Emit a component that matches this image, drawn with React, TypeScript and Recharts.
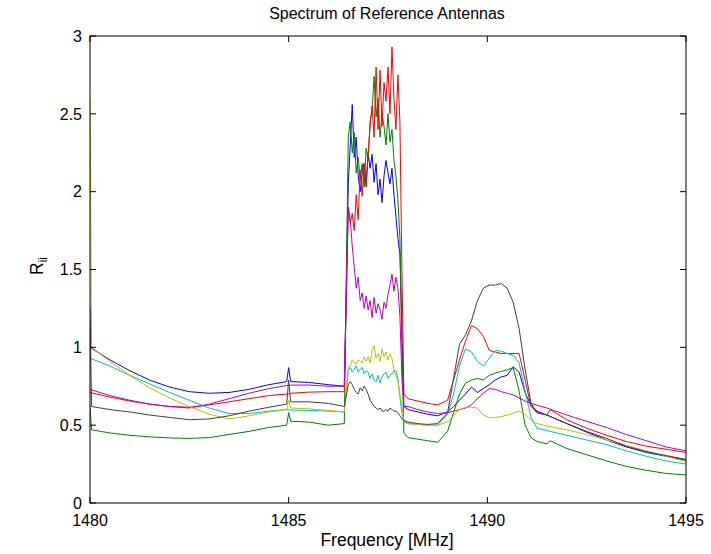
import { LineChart, Line, XAxis, YAxis } from "recharts";

// frequency grid [MHz]: coarse outside the band, fine inside the 1486.5-1487.9 band
const freq = [
  1480, 1480.04, 1480.5, 1481, 1481.5, 1482, 1482.5, 1483, 1483.5, 1484, 1484.5, 1484.95, 1485, 1485.05, 1485.5, 1486, 1486.4,
  1486.5, 1486.55, 1486.6, 1486.65, 1486.7, 1486.75, 1486.8, 1486.85, 1486.9, 1486.95, 1487, 1487.05, 1487.1, 1487.15,
  1487.2, 1487.25, 1487.3, 1487.35, 1487.4, 1487.45, 1487.5, 1487.55, 1487.6, 1487.65, 1487.7, 1487.75, 1487.8, 1487.85, 1487.9,
  1488, 1488.25, 1488.5, 1488.75, 1489, 1489.15, 1489.3, 1489.45, 1489.6, 1489.75, 1489.9, 1490.05, 1490.2, 1490.35,
  1490.5, 1490.65, 1490.8, 1490.95, 1491.1, 1491.25, 1491.5, 1491.58, 1492, 1492.5, 1493, 1493.5, 1494, 1494.5, 1495,
];

const blue = [
  1.0, null, 0.92, 0.85, 0.79, 0.745, 0.715, 0.705, 0.71, 0.73, 0.76, 0.78, 0.87, 0.78, 0.775, 0.76, 0.75,
  2.05, 2.3, 2.56, 2.22, 2.35, 2.1, 2.0, 2.12, 2.18, 2.04, 2.25, 2.15, 2.24, 2.06, 2.18, 1.98, 2.08, 1.93, 2.1, 2.2,
  2.12, 2.05, 2.15, 1.98, 1.84, 1.7, 1.6, 1.1, 0.62,
  0.6, 0.585, 0.57, 0.56, 0.585, 0.62, 0.66, 0.7, 0.745, 0.71, 0.735, 0.76, 0.79, 0.81, 0.82, 0.875, 0.84, 0.71,
  0.625, 0.59, 0.565, null, 0.51, 0.455, 0.405, 0.36, 0.325, 0.3, 0.275,
];

const green = [
  0.62, 0.47, 0.45, 0.435, 0.425, 0.418, 0.415, 0.42, 0.44, 0.46, 0.485, 0.5, 0.58, 0.525, 0.52, 0.5, 0.51,
  2.35, 2.45, 2.25, 2.38, 2.12, 2.22, 2.08, 2.18, 2.03, 2.28, 2.2, 2.45, 2.52, 2.74, 2.48, 2.6, 2.35, 2.5, 2.42, 2.3,
  2.5, 2.32, 2.4, 2.2, 2.1, 1.95, 1.7, 1.0, 0.45,
  0.42, 0.41, 0.4, 0.39, 0.46, 0.58, 0.7, 0.77, 0.79, 0.8, 0.79, 0.82, 0.835, 0.845, 0.855, 0.87, 0.72, 0.5,
  0.42, 0.395, 0.38, 0.4, 0.35, 0.31, 0.27, 0.235, 0.21, 0.19, 0.18,
];

const red = [
  0.71, null, 0.68, 0.655, 0.635, 0.62, 0.615, 0.63, 0.65, 0.67, 0.69, 0.7, 0.7, 0.705, 0.712, 0.715, 0.715,
  1.9, 1.8, 1.86, 1.75, 1.98, 1.82, 2.14, 1.97, 2.18, 2.03, 2.25, 2.42, 2.55, 2.35, 2.8, 2.4, 2.78, 2.42, 2.7, 2.58,
  2.8, 2.5, 2.93, 2.6, 2.4, 2.75, 2.45, 1.5, 0.7,
  0.67, 0.655, 0.64, 0.63, 0.66, 0.79, 0.92, 1.04, 1.14, 1.12, 1.07, 0.98, 0.97, 0.96, 0.96, 0.96, 0.96, 0.79,
  0.62, 0.58, 0.565, 0.6, 0.535, 0.48, 0.435, 0.395, 0.365, 0.345, 0.325,
];

const cyan = [
  0.93, null, 0.88, 0.82, 0.765, 0.71, 0.66, 0.61, 0.575, 0.575, 0.59, 0.6, 0.6, 0.597, 0.595, 0.59, 0.585,
  0.85, 0.87, 0.84, 0.86, 0.88, 0.84, 0.86, 0.87, 0.83, 0.85, 0.84, 0.8, 0.83, 0.79, 0.78, 0.82, 0.77, 0.81, 0.83, 0.84,
  0.8, 0.82, 0.83, 0.85, 0.85, 0.8, 0.68, 0.58, 0.52,
  0.51, 0.505, 0.5, 0.5, 0.57, 0.7, 0.88, 0.99, 0.97, 0.91, 0.88, 0.93, 0.98, 0.975, 0.96, 0.95, 0.9, 0.72,
  0.55, 0.48, 0.465, null, 0.435, 0.405, 0.375, 0.335, 0.3, 0.27, 0.25,
];

const magenta = [
  0.73, null, 0.69, 0.66, 0.635, 0.62, 0.61, 0.635, 0.67, 0.705, 0.735, 0.755, 0.755, 0.757, 0.758, 0.75, 0.75,
  1.9, 1.82, 1.65, 1.52, 1.38, 1.45, 1.3, 1.35, 1.25, 1.33, 1.24, 1.3, 1.19, 1.32, 1.22, 1.28, 1.24, 1.18, 1.29, 1.25,
  1.34, 1.4, 1.47, 1.36, 1.45, 1.38, 1.2, 0.8, 0.62,
  0.62, 0.6, 0.585, 0.575, 0.58, 0.59, 0.6, 0.61, 0.63, 0.67, 0.705, 0.735, 0.73, 0.715, 0.705, 0.695, 0.675, 0.655,
  0.64, 0.628, 0.61, null, 0.565, 0.525, 0.485, 0.44, 0.4, 0.36, 0.335,
];

const yellow = [
  2.6, 1.0, 0.91, 0.82, 0.74, 0.675, 0.62, 0.57, 0.54, 0.56, 0.585, 0.6, 0.66, 0.61, 0.605, 0.595, 0.585,
  0.87, 0.88, 0.92, 0.9, 0.89, 0.92, 0.91, 0.9, 0.94, 0.91, 0.94, 0.9, 0.98, 1.01, 0.93, 0.96, 0.91, 0.99, 0.94, 0.97,
  0.92, 0.96, 0.93, 0.85, 0.82, 0.78, 0.7, 0.62, 0.53,
  0.51, 0.505, 0.5, 0.5, 0.52, 0.56, 0.6, 0.615, 0.615, 0.61, 0.565, 0.548, 0.55, 0.555, 0.565, 0.576, 0.59, 0.57,
  0.53, 0.51, 0.495, null, 0.47, 0.44, 0.405, 0.37, 0.335, 0.3, 0.265,
];

const black = [
  1.25, 0.62, 0.6, 0.585, 0.565, 0.55, 0.535, 0.54, 0.56, 0.59, 0.615, 0.635, 0.79, 0.65, 0.65, 0.64, 0.62,
  0.76, 0.78, 0.76, 0.73, 0.71, 0.7, 0.74, 0.72, 0.75, 0.73, 0.7, 0.66, 0.64, 0.62, 0.61, 0.6, 0.61, 0.59, 0.59, 0.6,
  0.59, 0.61, 0.6, 0.59, 0.59, 0.58, 0.56, 0.54, 0.53,
  0.52, 0.51, 0.505, 0.51, 0.58, 0.8, 1.02, 1.08, 1.17, 1.3, 1.38, 1.4, 1.4, 1.41, 1.38, 1.29, 1.12, 0.86,
  0.64, 0.58, 0.565, null, 0.51, 0.46, 0.415, 0.365, 0.33, 0.305, 0.28,
];

const xTicks = [1480, 1485, 1490, 1495];
const yTicks = [0, 0.5, 1, 1.5, 2, 2.5, 3];

// matlab plot order: b g r c m y k
const series = [
  { key: "ant1", color: "#0000ff", values: blue },
  { key: "ant2", color: "#008000", values: green },
  { key: "ant3", color: "#ff0000", values: red },
  { key: "ant4", color: "#00bfbf", values: cyan },
  { key: "ant5", color: "#bf00bf", values: magenta },
  { key: "ant6", color: "#bfbf00", values: yellow },
  { key: "ant7", color: "#404040", values: black },
];

const data = freq.map((f, i) => {
  const row: Record<string, number | null> = { f };
  series.forEach((s) => (row[s.key] = s.values[i]));
  return row;
});

const font = "'Liberation Sans', Arial, Helvetica, sans-serif";
const tickStyle = { fontSize: 16, fill: "#000", fontFamily: font };
const xDomain = [1480, 1495];
const yDomain = [0, 3];
const noLabel = () => "";

export default function App() {
  return (
    <div style={{ position: "absolute", left: 0, top: 0, width: 711, height: 554, background: "#fff" }}>
      <LineChart width={711} height={554} data={data} margin={{ top: 36, right: 25, left: 0, bottom: 0 }}>
        {/* tick labels, used by the lines */}
        <XAxis dataKey="f" type="number" domain={xDomain} ticks={xTicks} height={51} axisLine={false}
          tickLine={false} tickSize={-6} tickMargin={18} tick={tickStyle} interval={0} allowDataOverflow />
        <YAxis type="number" domain={yDomain} ticks={yTicks} width={90} axisLine={false}
          tickLine={false} tickSize={-6} tickMargin={14} tick={tickStyle} interval={0} allowDataOverflow />
        {/* box with inward ticks (matlab style) */}
        <XAxis xAxisId="boxb" dataKey="f" type="number" domain={xDomain} ticks={xTicks} mirror height={10}
          stroke="#000" tickSize={6} tickFormatter={noLabel} interval={0} allowDataOverflow />
        <XAxis xAxisId="boxt" orientation="top" dataKey="f" type="number" domain={xDomain} ticks={xTicks}
          mirror height={10} stroke="#000" tickSize={6} tickFormatter={noLabel} interval={0} allowDataOverflow />
        <YAxis yAxisId="boxl" dataKey="ant3" type="number" domain={yDomain} ticks={yTicks} mirror width={10}
          stroke="#000" tickSize={6} tickFormatter={noLabel} interval={0} allowDataOverflow />
        <YAxis yAxisId="boxr" dataKey="ant3" orientation="right" type="number" domain={yDomain} ticks={yTicks}
          mirror width={10} stroke="#000" tickSize={6} tickFormatter={noLabel} interval={0} allowDataOverflow />
        {series.map((s) => (
          <Line
            key={s.key}
            dataKey={s.key}
            type="linear"
            stroke={s.color}
            strokeWidth={1}
            dot={false}
            connectNulls
            isAnimationActive={false}
          />
        ))}
      </LineChart>
      <svg width={711} height={554} style={{ position: "absolute", left: 0, top: 0, pointerEvents: "none" }}>
        <text x={387} y={18.5} textAnchor="middle" fontSize={16} fontFamily={font} fill="#000">
          Spectrum of Reference Antennas
        </text>
        <text x={387} y={546} textAnchor="middle" fontSize={17.5} fontFamily={font} fill="#000">
          Frequency [MHz]
        </text>
        <text transform="translate(43,266) rotate(-90)" textAnchor="middle" fontSize={17.5} fontFamily={font} fill="#000">
          R<tspan dy={4} fontSize={12}>ii</tspan>
        </text>
      </svg>
    </div>
  );
}
